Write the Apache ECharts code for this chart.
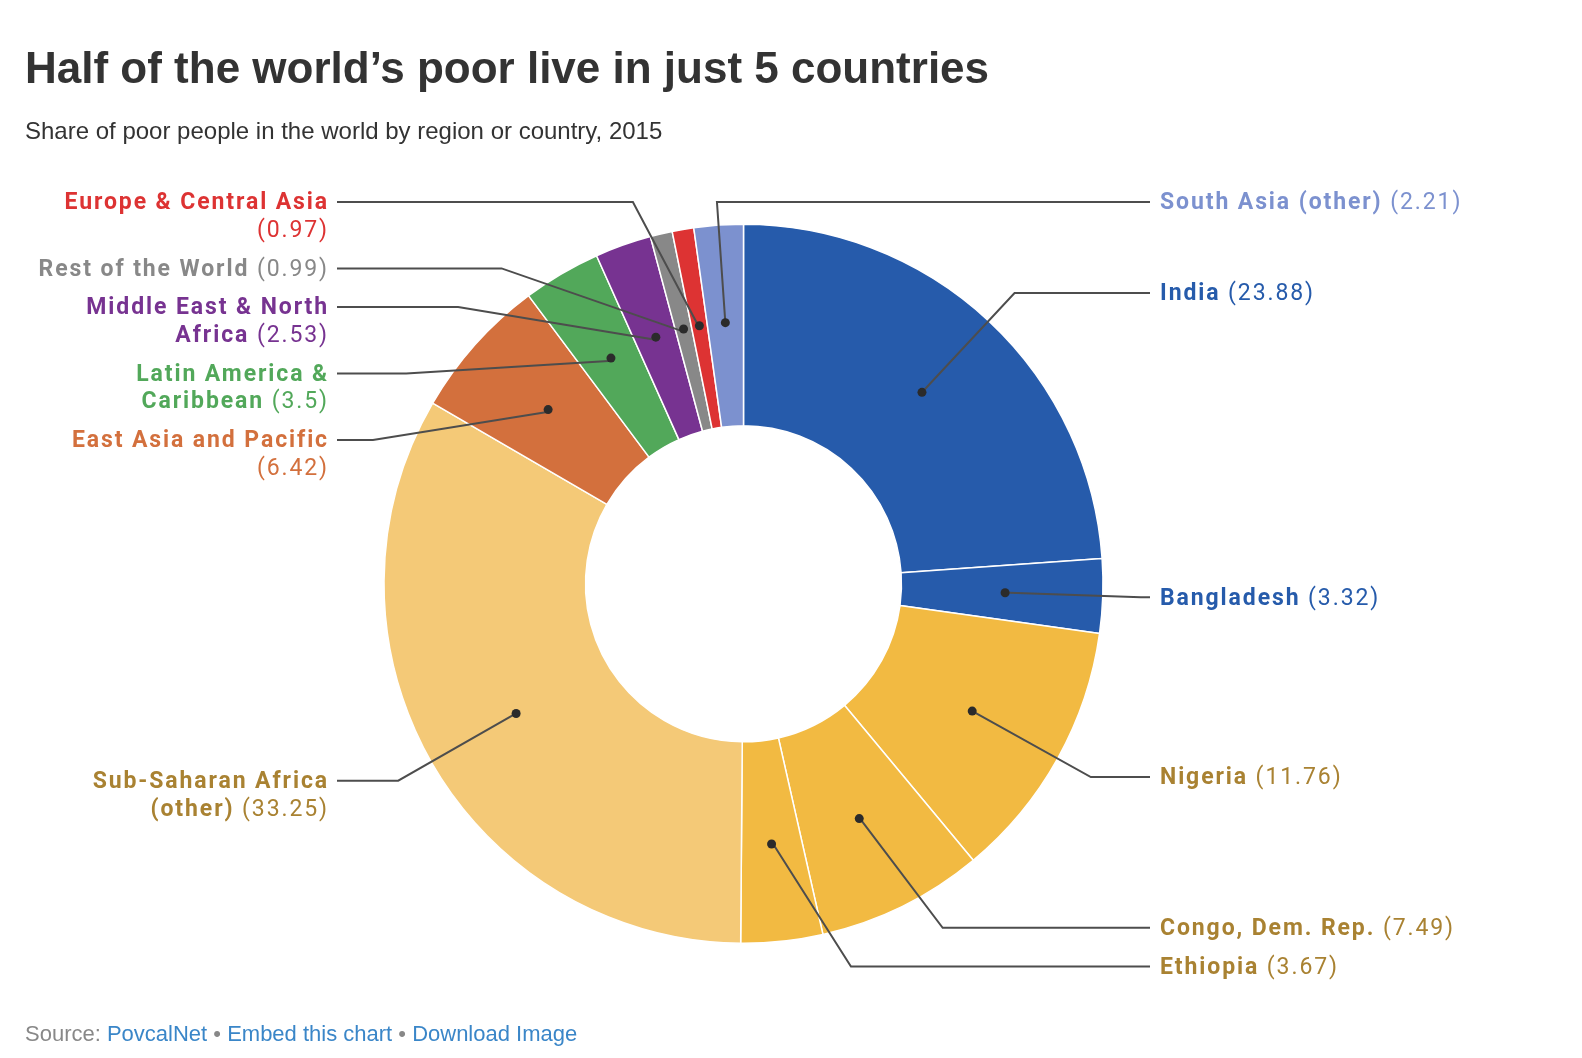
<!DOCTYPE html>
<html>
<head>
<meta charset="utf-8">
<script src="https://cdn.jsdelivr.net/npm/echarts@6/dist/echarts.min.js"></script>
<style>
  html, body { margin: 0; padding: 0; background: #fff; }
  #chart { width: 1582px; height: 1058px; }
</style>
</head>
<body>
<div id="chart"></div>
<script>
// data, clockwise from 12 o'clock
const regions = ['India', 'Bangladesh', 'Nigeria', 'Congo, Dem. Rep.', 'Ethiopia',
  'Sub-Saharan Africa (other)', 'East Asia and Pacific', 'Latin America & Caribbean',
  'Middle East & North Africa', 'Rest of the World', 'Europe & Central Asia', 'South Asia (other)'];
const shares = [23.88, 3.32, 11.76, 7.49, 3.67, 33.25, 6.42, 3.5, 2.53, 0.99, 0.97, 2.21];
const sliceColors = ['#265bab', '#265bab', '#f2ba42', '#f2ba42', '#f2ba42', '#f4c977',
  '#d3703d', '#52a85a', '#773391', '#888888', '#dd3333', '#7c91cf'];
const textColors = ['#265bab', '#265bab', '#a98232', '#a98232', '#a98232', '#a98232',
  '#d3703d', '#52a85a', '#773391', '#888888', '#dd3333', '#7c91cf'];

// layout
const CX = 743.5, CY = 583.8, R_IN = 158, R_OUT = 359.5;
const ELBOW_R = 397.5, LINE_END = 406.5, TEXT_XR = 416.5, TEXT_XL = 414.5;
const TOP_Y = 202, BOTTOM_Y = 966.5, LINE_H = 27.7, GAP = 11, TEXT_DY = 1.5;
const FONT = 'Roboto', FS = 23, WRAP = 305, SPACING = 1.9;

// the slice labels are letter-spaced: teach measuring and drawing about it
function spacingFor(font) { return /Roboto/.test(font) ? SPACING + 'px' : '0px'; }
const mctx = document.createElement('canvas').getContext('2d');
function measure(text, font) {
  mctx.font = font || '12px sans-serif';
  mctx.letterSpacing = spacingFor(mctx.font);
  return mctx.measureText(text);
}
echarts.setPlatformAPI({ measureText: measure });
const origFillText = CanvasRenderingContext2D.prototype.fillText;
CanvasRenderingContext2D.prototype.fillText = function () {
  this.letterSpacing = spacingFor(this.font);
  return origFillText.apply(this, arguments);
};

const BOLD = 'bold ' + FS + 'px ' + FONT, NORMAL = FS + 'px ' + FONT;

// greedy word wrap into rich text lines
function wrapLabel(name, val, maxW) {
  const words = name.split(' ').map(w => ({ t: w, s: 'n' }));
  words.push({ t: '(' + val + ')', s: 'v' });
  const lines = [[]];
  let w = 0;
  words.forEach(word => {
    const f = word.s === 'n' ? BOLD : NORMAL;
    const ww = measure(word.t, f).width, sp = measure(' ', f).width;
    const cur = lines[lines.length - 1];
    if (maxW && cur.length && w + sp + ww > maxW) {
      lines.push([word]);
      w = ww;
    } else {
      w += (cur.length ? sp : 0) + ww;
      cur.push(word);
    }
  });
  const text = lines.map(line => {
    let out = '', k = 0;
    while (k < line.length) {
      const s = line[k].s, parts = [];
      while (k < line.length && line[k].s === s) parts.push(line[k++].t);
      out += '{' + s + '|' + parts.join(' ') + (k < line.length ? ' ' : '') + '}';
    }
    return out;
  }).join('\n');
  return { text, lines: lines.length };
}

const total = shares.reduce((a, b) => a + b, 0);
const layout = [];
let acc = 0;
shares.forEach((v, i) => {
  const a = (acc + v / 2) / total * 2 * Math.PI;
  acc += v;
  const natural = Math.sin(a) >= 0 ? 1 : -1;
  // a slice right at the top gets its label on the right
  const side = (natural > 0 || a > 2 * Math.PI - 0.1) ? 1 : -1;
  const rm = (R_IN + R_OUT) / 2;
  const wrapped = wrapLabel(regions[i], v, side < 0 ? WRAP : 0);
  layout.push({
    i, a, side, natural,
    dotX: CX + rm * Math.sin(a), dotY: CY - rm * Math.cos(a),
    want: CY - ELBOW_R * Math.cos(a),
    text: wrapped.text, lines: wrapped.lines
  });
});

function stack(list) {
  list.sort((p, q) => p.want - q.want);
  let prev = null;
  list.forEach(it => {
    let y = Math.max(it.want, TOP_Y);
    if (prev) y = Math.max(y, prev.y + prev.lines * LINE_H + GAP);
    it.y = y;
    prev = it;
  });
  for (let k = list.length - 1; k >= 0; k--) {
    const it = list[k];
    const lim = k === list.length - 1 ? BOTTOM_Y : list[k + 1].y - it.lines * LINE_H - GAP;
    it.y = Math.min(it.y, lim);
  }
}
stack(layout.filter(l => l.side > 0));
stack(layout.filter(l => l.side < 0));

layout.forEach(l => {
  const dy = CY - l.y;
  if (l.side === l.natural) {
    l.elbowX = CX + l.side * Math.sqrt(Math.max(ELBOW_R * ELBOW_R - dy * dy, 0));
  } else {
    l.elbowX = CX + dy * Math.tan(l.a);
  }
});

const pieBase = {
  type: 'pie',
  center: [CX, CY],
  radius: [R_IN, R_OUT],
  startAngle: 90,
  clockwise: true,
  avoidLabelOverlap: false,
  emphasis: { disabled: true }
};

const chart = echarts.init(document.getElementById('chart'), null, { renderer: 'canvas' });

const option = {
  animation: false,
  title: [
    {
      text: 'Half of the world’s poor live in just 5 countries',
      left: 25, top: 49, padding: 0,
      textStyle: { fontFamily: 'Liberation Sans', fontWeight: 'bold', fontSize: 44, color: '#333' }
    },
    {
      text: 'Share of poor people in the world by region or country, 2015',
      left: 25, top: 120, padding: 0,
      textStyle: { fontFamily: 'Liberation Sans', fontWeight: 'normal', fontSize: 24, color: '#333' }
    },
    {
      text: '{s|Source: }{l|PovcalNet}{s| • }{l|Embed this chart}{s| • }{l|Download Image}',
      left: 25, top: 1024, padding: 0,
      textStyle: {
        fontFamily: 'Liberation Sans', fontSize: 22, fontWeight: 'normal',
        rich: {
          s: { fontFamily: 'Liberation Sans', fontSize: 22, fontWeight: 'normal', color: '#888' },
          l: { fontFamily: 'Liberation Sans', fontSize: 22, fontWeight: 'normal', color: '#3a86c8' }
        }
      }
    }
  ],
  series: [
    // coloured slices
    Object.assign({}, pieBase, {
      z: 1,
      itemStyle: { borderColor: '#fff', borderWidth: 1.5 },
      label: { show: false },
      labelLine: { show: false },
      data: shares.map((v, i) => ({ name: regions[i], value: v, itemStyle: { color: sliceColors[i] } }))
    }),
    // labels and leader lines, drawn over the slices
    Object.assign({}, pieBase, {
      z: 3,
      silent: true,
      itemStyle: { color: 'rgba(0,0,0,0)', borderWidth: 0 },
      data: shares.map((v, i) => ({ name: regions[i], value: v, label: { color: textColors[i] } })),
      label: {
        show: true,
        position: 'outside',
        fontFamily: FONT,
        fontSize: FS,
        lineHeight: LINE_H,
        formatter: p => layout[p.dataIndex].text,
        rich: {
          n: { fontFamily: FONT, fontWeight: 'bold', fontSize: FS, lineHeight: LINE_H },
          v: { fontFamily: FONT, fontWeight: 'normal', fontSize: FS, lineHeight: LINE_H }
        }
      },
      labelLine: { show: true, lineStyle: { color: '#4d4d4d', width: 2 } },
      labelLayout: params => {
        const l = layout[params.dataIndex];
        return {
          x: CX + (l.side > 0 ? TEXT_XR : -TEXT_XL),
          y: l.y - LINE_H / 2 + TEXT_DY,
          align: l.side > 0 ? 'left' : 'right',
          verticalAlign: 'top',
          labelLinePoints: [[l.dotX, l.dotY], [l.elbowX, l.y], [CX + l.side * LINE_END, l.y]]
        };
      }
    }),
    // dots at the middle of each slice
    Object.assign({}, pieBase, {
      z: 5,
      silent: true,
      itemStyle: { color: 'rgba(0,0,0,0)', borderWidth: 0 },
      data: shares.map((v, i) => ({ name: regions[i], value: v })),
      label: {
        show: true,
        position: 'inside',
        formatter: ' ',
        width: 9, height: 9, padding: 0,
        backgroundColor: '#2b2b2b',
        borderRadius: 4.5
      },
      labelLine: { show: false }
    })
  ]
};

chart.setOption(option);
</script>
</body>
</html>
